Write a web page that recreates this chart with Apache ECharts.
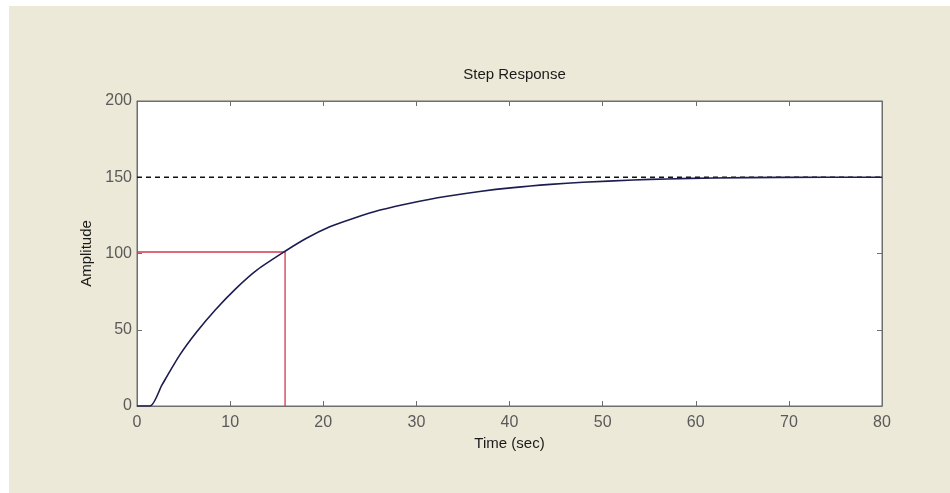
<!DOCTYPE html>
<html>
<head>
<meta charset="utf-8">
<script src="https://cdn.jsdelivr.net/npm/echarts@6/dist/echarts.min.js"></script>
<style>
html,body{margin:0;padding:0;background:#ffffff;width:950px;height:493px;overflow:hidden;}
#chart{position:absolute;left:9px;top:6px;width:941px;height:487px;background:#ECE9D8;}
</style>
</head>
<body>
<div id="chart"></div>
<script>
// Step response samples: [time (sec), amplitude]
const responseTime = [0, 1.4, 2.7, 4.6, 6.4, 8.4, 10.7, 12.9, 15.9, 18.2, 20.7, 23.2, 26.1, 29.7, 33.3, 36.8, 40.4, 44.4, 47.9, 53.3, 56.9, 62, 69, 80];
const responseAmp  = [0, 0, 14, 33.5, 48.5, 63, 77.5, 89.3, 101.5, 110, 117.5, 123, 128.5, 133.5, 137.5, 140.7, 143.2, 145.3, 146.7, 148.2, 148.9, 149.5, 149.9, 150];
// Steady-state reference line
const finalTime = [0, 80];
const finalValue = [150, 150];
// Marker for the 100 amplitude crossing
const markTime = [0, 15.9, 15.9];
const markAmp = [101, 101, 0];
// Axes
const xTicks = {min: 0, max: 80, interval: 10};
const yTicks = {min: 0, max: 200, interval: 50};

const zip = (a, b) => a.map((v, i) => [v, b[i]]);

const labelFont = 'Liberation Sans';
const chart = echarts.init(document.getElementById('chart'));
const axisCommon = {
  type: 'value',
  axisLine: {show: true, onZero: false, lineStyle: {color: '#6e6e6e', width: 1}},
  axisTick: {show: true, inside: true, length: 5, lineStyle: {color: '#6e6e6e'}},
  splitLine: {show: false}
};
chart.setOption({
  backgroundColor: 'transparent',
  animation: false,
  title: {
    text: 'Step Response',
    left: 500.5, top: 56, textAlign: 'center',
    textStyle: {fontFamily: labelFont, fontSize: 15, fontWeight: 'normal', color: '#1a1a1a'}
  },
  grid: {left: 128, top: 95, width: 745, height: 305, show: true, backgroundColor: '#ffffff', borderColor: '#6e6e6e', borderWidth: 1},
  xAxis: [
    Object.assign({}, axisCommon, {
      position: 'bottom', min: xTicks.min, max: xTicks.max, interval: xTicks.interval,
      name: 'Time (sec)', nameLocation: 'middle', nameGap: 21,
      nameTextStyle: {fontFamily: labelFont, fontSize: 15, color: '#1a1a1a'},
      axisLabel: {fontFamily: labelFont, fontSize: 16, color: '#5a5a5a', margin: 9}
    }),
    Object.assign({}, axisCommon, {
      position: 'top', min: xTicks.min, max: xTicks.max, interval: xTicks.interval,
      axisLabel: {show: false}
    })
  ],
  yAxis: [
    Object.assign({}, axisCommon, {
      position: 'left', min: yTicks.min, max: yTicks.max, interval: yTicks.interval,
      name: 'Amplitude', nameLocation: 'middle', nameGap: 37, nameRotate: 90,
      nameTextStyle: {fontFamily: labelFont, fontSize: 15, color: '#1a1a1a'},
      axisLabel: {fontFamily: labelFont, fontSize: 16, color: '#5a5a5a', margin: 5}
    }),
    Object.assign({}, axisCommon, {
      position: 'right', min: yTicks.min, max: yTicks.max, interval: yTicks.interval,
      axisLabel: {show: false}
    })
  ],
  series: [
    {
      type: 'line', data: zip(finalTime, finalValue), symbol: 'none',
      lineStyle: {color: '#111111', width: 1.3, type: [5, 4]}, z: 2
    },
    {
      type: 'line', data: zip(markTime, markAmp), symbol: 'none',
      lineStyle: {color: '#d23a4c', width: 1.3}, z: 3
    },
    {
      type: 'line', data: zip(responseTime, responseAmp), symbol: 'none',
      smooth: 0.25,
      lineStyle: {color: '#1c1c50', width: 1.6}, z: 4
    }
  ]
});
</script>
</body>
</html>
